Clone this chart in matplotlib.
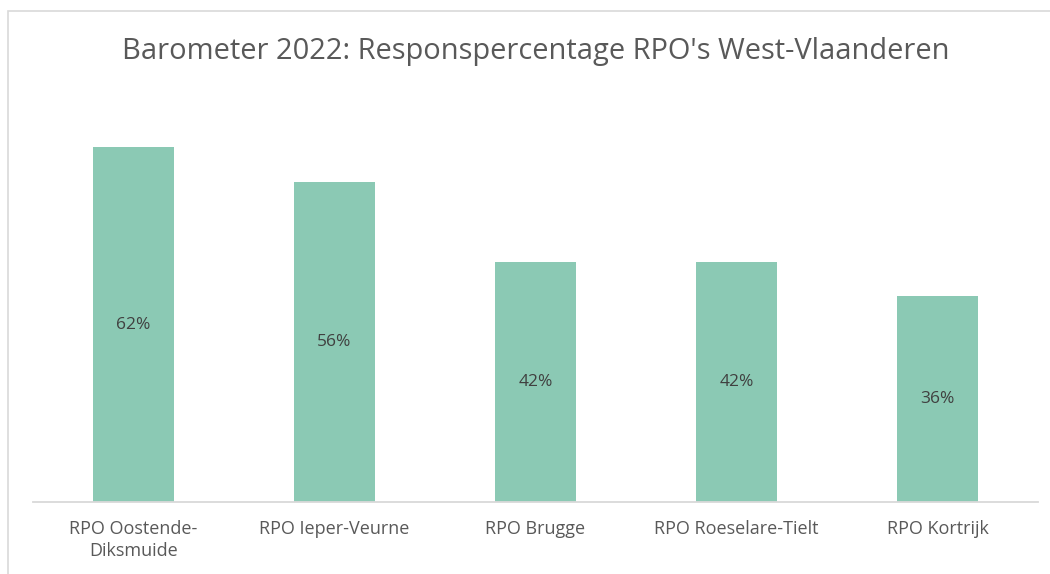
import matplotlib.pyplot as plt
from matplotlib.patches import Rectangle

categories = ['RPO Oostende-\nDiksmuide', 'RPO Ieper-Veurne', 'RPO Brugge',
              'RPO Roeselare-Tielt', 'RPO Kortrijk']
values = [62, 56, 42, 42, 36]
value_labels = ['62%', '56%', '42%', '42%', '36%']

plt.rcParams['font.family'] = ['Open Sans', 'DejaVu Sans']

W, H = 1050, 574
fig = plt.figure(figsize=(W / 100, H / 100), dpi=100)

# chart-area border (runs off the right and bottom edge)
fig.add_artist(Rectangle((8 / W, -0.1), 1.2, (H - 11) / H + 0.1,
                         transform=fig.transFigure, fill=False,
                         edgecolor='#D9D9D9', linewidth=1.2))

ax = fig.add_axes([33 / W, 72.3 / H, 1005 / W, 400 / H])
x = range(len(categories))
bars = ax.bar(x, values, width=0.4, color='#8BC9B4')
ax.set_xlim(-0.5, len(categories) - 0.5)
ax.set_ylim(0, 70)

for b, lab in zip(bars, value_labels):
    ax.text(b.get_x() + b.get_width() / 2, b.get_height() / 2, lab,
            ha='center', va='center', fontsize=12.5, color='#404040')

ax.set_xticks(list(x))
ax.set_xticklabels(categories, fontsize=13, color='#595959', linespacing=1.3)
ax.tick_params(axis='x', length=0, pad=13)
ax.set_yticks([])
for s in ['top', 'right', 'left']:
    ax.spines[s].set_visible(False)
ax.spines['bottom'].set_color('#D9D9D9')
ax.spines['bottom'].set_linewidth(1.3)

fig.text(536 / W, 1 - 51 / H, "Barometer 2022: Responspercentage RPO's West-Vlaanderen",
         ha='center', va='center', fontsize=20.9, color='#595959')

plt.savefig('out.png', dpi=100)
